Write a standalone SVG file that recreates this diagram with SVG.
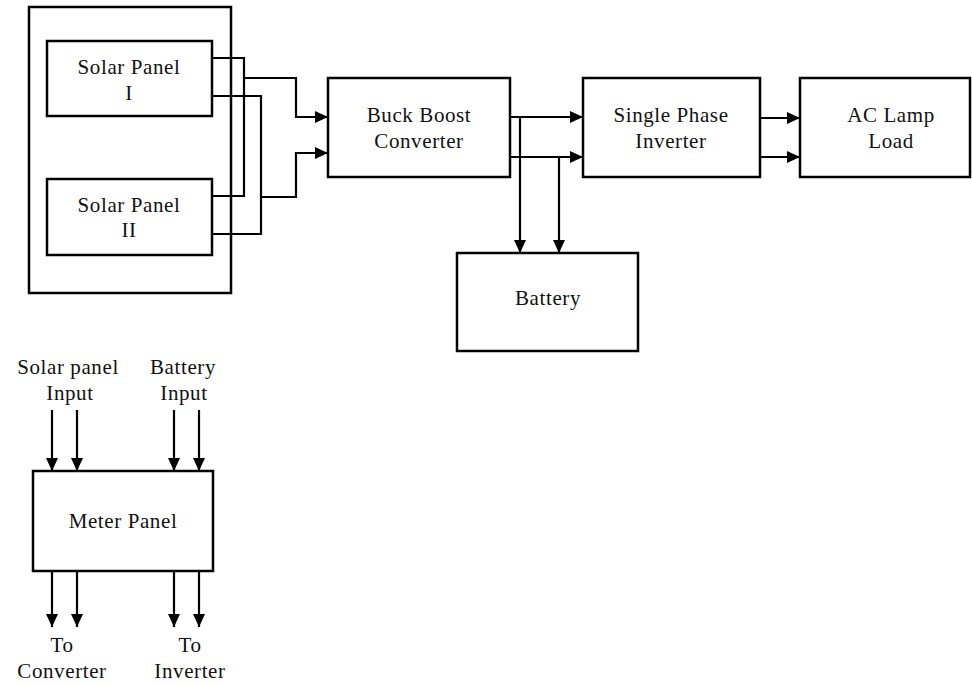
<svg xmlns="http://www.w3.org/2000/svg" width="972" height="685" viewBox="0 0 972 685">
<defs>
<style>
.box{fill:#fff;stroke:#000;stroke-width:2.5}
.w{fill:none;stroke:#000;stroke-width:2.2}
.a{fill:none;stroke:#000;stroke-width:2.2;marker-end:url(#arr)}
text{font-family:"Liberation Serif","Times New Roman",serif;font-size:21px;letter-spacing:0.6px;fill:#111;text-anchor:middle}
</style>
<marker id="arr" markerUnits="userSpaceOnUse" markerWidth="14" markerHeight="12" refX="13" refY="6" orient="auto">
<path d="M0,0 L13,6 L0,12 z" fill="#000"/>
</marker>
</defs>
<rect width="972" height="685" fill="#fff"/>
<g id="solar-enclosure"><rect class="box" x="29" y="7" width="202" height="286" stroke-width="2"/></g>
<g id="solar-panel-1"><rect class="box" x="47" y="41" width="165" height="75"/><text x="129" y="74">Solar Panel</text><text x="129" y="100">I</text></g>
<g id="solar-panel-2"><rect class="box" x="47" y="179" width="165" height="76"/><text x="129" y="212">Solar Panel</text><text x="129" y="237">II</text></g>
<g id="buck-boost"><rect class="box" x="328" y="78" width="182" height="99"/><text x="419" y="122">Buck Boost</text><text x="419" y="148">Converter</text></g>
<g id="inverter"><rect class="box" x="583" y="78" width="177" height="99"/><text x="671" y="122">Single Phase</text><text x="671" y="148">Inverter</text></g>
<g id="ac-lamp"><rect class="box" x="800" y="78" width="170" height="99"/><text x="891" y="122">AC Lamp</text><text x="891" y="148">Load</text></g>
<g id="battery"><rect class="box" x="457" y="253" width="181" height="98"/><text x="548" y="305">Battery</text></g>
<g id="meter-panel"><rect class="box" x="33" y="471" width="180" height="100"/><text x="123" y="528">Meter Panel</text></g>
<g id="labels">
<text x="68" y="374">Solar panel</text><text x="70" y="400">Input</text>
<text x="183" y="374">Battery</text><text x="184" y="400">Input</text>
<text x="62" y="652">To</text><text x="62" y="678">Converter</text>
<text x="190" y="652">To</text><text x="190" y="678">Inverter</text>
</g>
<g id="connectors">
<polyline class="w" points="212,58 244,58 244,196 212,196"/>
<polyline class="w" points="212,96 261,96 261,234 212,234"/>
<polyline class="a" points="244,78 296,78 296,117 328,117"/>
<polyline class="a" points="261,197 296,197 296,153 328,153"/>
<line class="a" x1="510" y1="117" x2="583" y2="117"/>
<line class="a" x1="510" y1="157" x2="583" y2="157"/>
<line class="a" x1="520" y1="117" x2="520" y2="253"/>
<line class="a" x1="559" y1="157" x2="559" y2="253"/>
<line class="a" x1="760" y1="118" x2="800" y2="118"/>
<line class="a" x1="760" y1="157" x2="800" y2="157"/>
<line class="a" x1="52" y1="410" x2="52" y2="471"/>
<line class="a" x1="77" y1="410" x2="77" y2="471"/>
<line class="a" x1="174" y1="410" x2="174" y2="471"/>
<line class="a" x1="199" y1="410" x2="199" y2="471"/>
<line class="a" x1="52" y1="571" x2="52" y2="627"/>
<line class="a" x1="77" y1="571" x2="77" y2="627"/>
<line class="a" x1="174" y1="571" x2="174" y2="627"/>
<line class="a" x1="199" y1="571" x2="199" y2="627"/>
</g>
</svg>
